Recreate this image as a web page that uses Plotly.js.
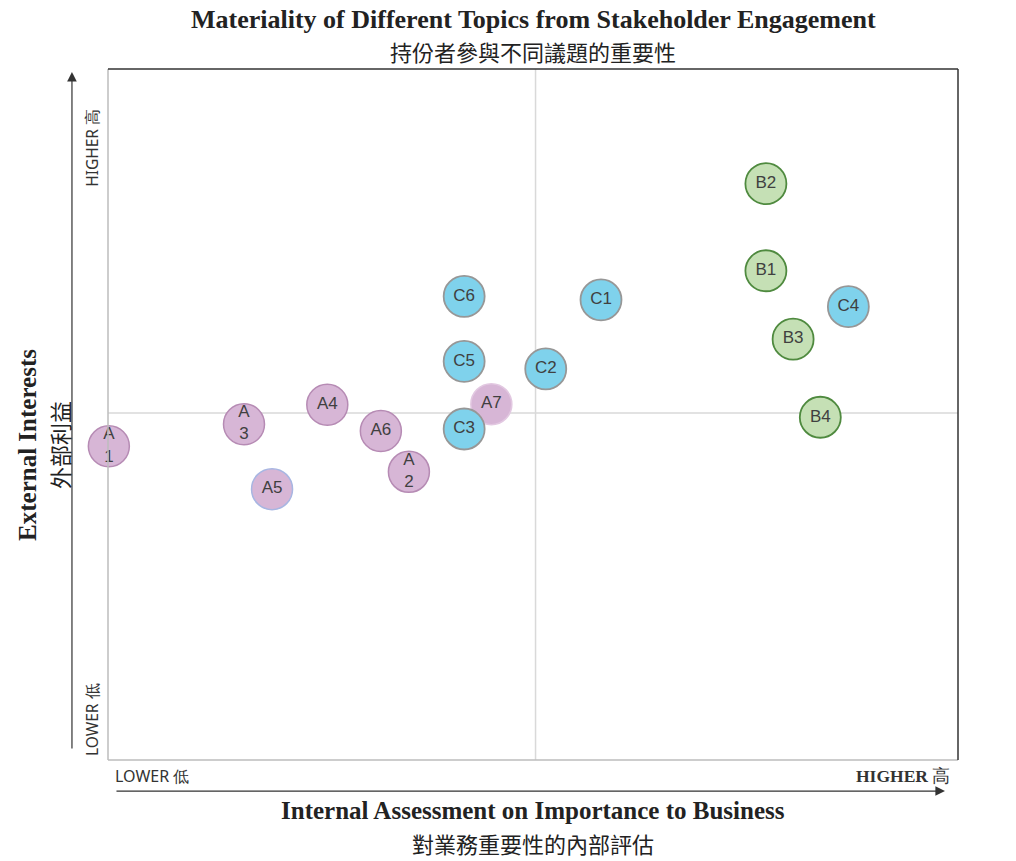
<!DOCTYPE html>
<html>
<head>
<meta charset="utf-8">
<script src="https://cdn.plot.ly/plotly-3.0.1.min.js"></script>
<style>html,body{margin:0;padding:0;background:#fff;}#chart{width:1016px;height:861px;}</style>
</head>
<body>
<div id="chart"></div>
<script>
// ---- data ----
const aLabels = ["A<br>1", "A<br>2", "A<br>3", "A4", "A5", "A6", "A7"];
const aX = [0.01, 3.54, 1.60, 2.58, 1.93, 3.21, 4.51];
const aY = [4.54, 4.17, 4.86, 5.14, 3.92, 4.76, 5.15];

const cLabels = ["C1", "C2", "C3", "C4", "C5", "C6"];
const cX = [5.80, 5.15, 4.19, 8.71, 4.19, 4.19];
const cY = [6.66, 5.66, 4.79, 6.56, 5.77, 6.71];

const bLabels = ["B1", "B2", "B3", "B4"];
const bX = [7.74, 7.74, 8.06, 8.38];
const bY = [7.08, 8.34, 6.09, 4.96];

const xCenter = 5.03;
const yCenter = 5.02;

// ---- chart ----
const serif = "Liberation Serif, Times New Roman, serif";
const sans = "Noto Sans, Liberation Sans, sans-serif";
const cjk = "Noto Sans CJK TC, Noto Sans CJK SC, sans-serif";
const markerSize = 41;
const labelFont = {family: "Liberation Sans, Noto Sans, sans-serif", size: 17, color: "#404040"};

const traces = [
  {
    type: "scatter", mode: "markers+text", x: aX, y: aY, text: aLabels,
    textposition: "middle center", textfont: labelFont, hoverinfo: "text",
    marker: {size: markerSize, color: "#d7b6d6",
      line: {width: 1.5, color: ["#b68bb4", "#b68bb4", "#b68bb4", "#b68bb4", "#a8b6e2", "#b68bb4", "#e2c8e1"]}},
    cliponaxis: false, showlegend: false
  },
  {
    type: "scatter", mode: "markers+text", x: cX, y: cY, text: cLabels,
    textposition: "middle center", textfont: labelFont, hoverinfo: "text",
    marker: {size: markerSize, color: "#7fd2ec", line: {width: 1.8, color: "#979797"}},
    cliponaxis: false, showlegend: false
  },
  {
    type: "scatter", mode: "markers+text", x: bX, y: bY, text: bLabels,
    textposition: "middle center", textfont: labelFont, hoverinfo: "text",
    marker: {size: markerSize, color: "#c5e0b5", line: {width: 1.8, color: "#4f8a3f"}},
    cliponaxis: false, showlegend: false
  }
];

function ann(text, x, y, font, extra) {
  return Object.assign({xref: "paper", yref: "paper", x: x, y: y, text: text, showarrow: false,
    font: font, xanchor: "center", yanchor: "middle"}, extra || {});
}

const annotations = [
  ann("<b>Materiality of Different Topics from Stakeholder Engagement</b>", 0.5, 1.071, {family: serif, size: 26, color: "#222"}),
  ann("持份者參與不同議題的重要性", 0.5, 1.0262, {family: cjk, size: 22, color: "#222"}),
  ann("<b>Internal Assessment on Importance to Business</b>", 0.5, -0.0724, {family: serif, size: 25, color: "#222"}),
  ann("對業務重要性的內部評估", 0.5, -0.1201, {family: cjk, size: 22, color: "#222"}),
  ann("<b>External Interests</b>", -0.0941, 0.456, {family: serif, size: 25, color: "#222"}, {textangle: -90}),
  ann("外部利益", -0.0576, 0.456, {family: cjk, size: 22, color: "#222"}, {textangle: -90}),
  ann("HIGHER 高", -0.0188, 0.886, {family: sans, size: 15.5, color: "#333"}, {textangle: -90}),
  ann("LOWER 低", -0.0188, 0.058, {family: sans, size: 15.5, color: "#333"}, {textangle: -90}),
  ann("LOWER 低", 0.006, -0.023, {family: sans, size: 16, color: "#333"}, {xanchor: "left"}),
  ann("<b>HIGHER</b> 高", 0.993, -0.023, {family: serif, size: 17.5, color: "#333"}, {xanchor: "right"}),
  // vertical arrow
  {xref: "paper", yref: "paper", x: -0.0424, y: 0.9957, ax: -0.0424, ay: 0.0145, axref: "paper", ayref: "paper",
    showarrow: true, arrowhead: 2, arrowsize: 1.6, arrowwidth: 1.2, arrowcolor: "#333", text: ""},
  // horizontal arrow
  {xref: "paper", yref: "paper", x: 0.9847, y: -0.0449, ax: 0.0082, ay: -0.0449, axref: "paper", ayref: "paper",
    showarrow: true, arrowhead: 2, arrowsize: 1.6, arrowwidth: 1.2, arrowcolor: "#333", text: ""}
];

const shapes = [
  {type: "line", xref: "x", yref: "paper", x0: xCenter, x1: xCenter, y0: 0, y1: 1, line: {color: "#d9d9d9", width: 1.5}, layer: "below"},
  {type: "line", xref: "paper", yref: "y", x0: 0, x1: 1, y0: yCenter, y1: yCenter, line: {color: "#d9d9d9", width: 1.5}, layer: "below"},
  {type: "line", xref: "paper", yref: "paper", x0: 0, x1: 0, y0: 0, y1: 1, line: {color: "#bdbdbd", width: 1.5}},
  {type: "line", xref: "paper", yref: "paper", x0: 0, x1: 1, y0: 0, y1: 0, line: {color: "#bdbdbd", width: 1.5}},
  {type: "line", xref: "paper", yref: "paper", x0: 0, x1: 1, y0: 1, y1: 1, line: {color: "#333", width: 1.5}},
  {type: "line", xref: "paper", yref: "paper", x0: 1, x1: 1, y0: 0, y1: 1, line: {color: "#333", width: 1.5}}
];

const layout = {
  width: 1016, height: 861,
  margin: {l: 108, r: 58, t: 69, b: 101},
  paper_bgcolor: "#ffffff", plot_bgcolor: "#ffffff",
  xaxis: {range: [0, 10], showgrid: false, zeroline: false, showticklabels: false, showline: false, ticks: ""},
  yaxis: {range: [0, 10], showgrid: false, zeroline: false, showticklabels: false, showline: false, ticks: ""},
  annotations: annotations,
  shapes: shapes,
  showlegend: false
};

Plotly.newPlot("chart", traces, layout, {displayModeBar: false, staticPlot: true});
</script>
</body>
</html>
